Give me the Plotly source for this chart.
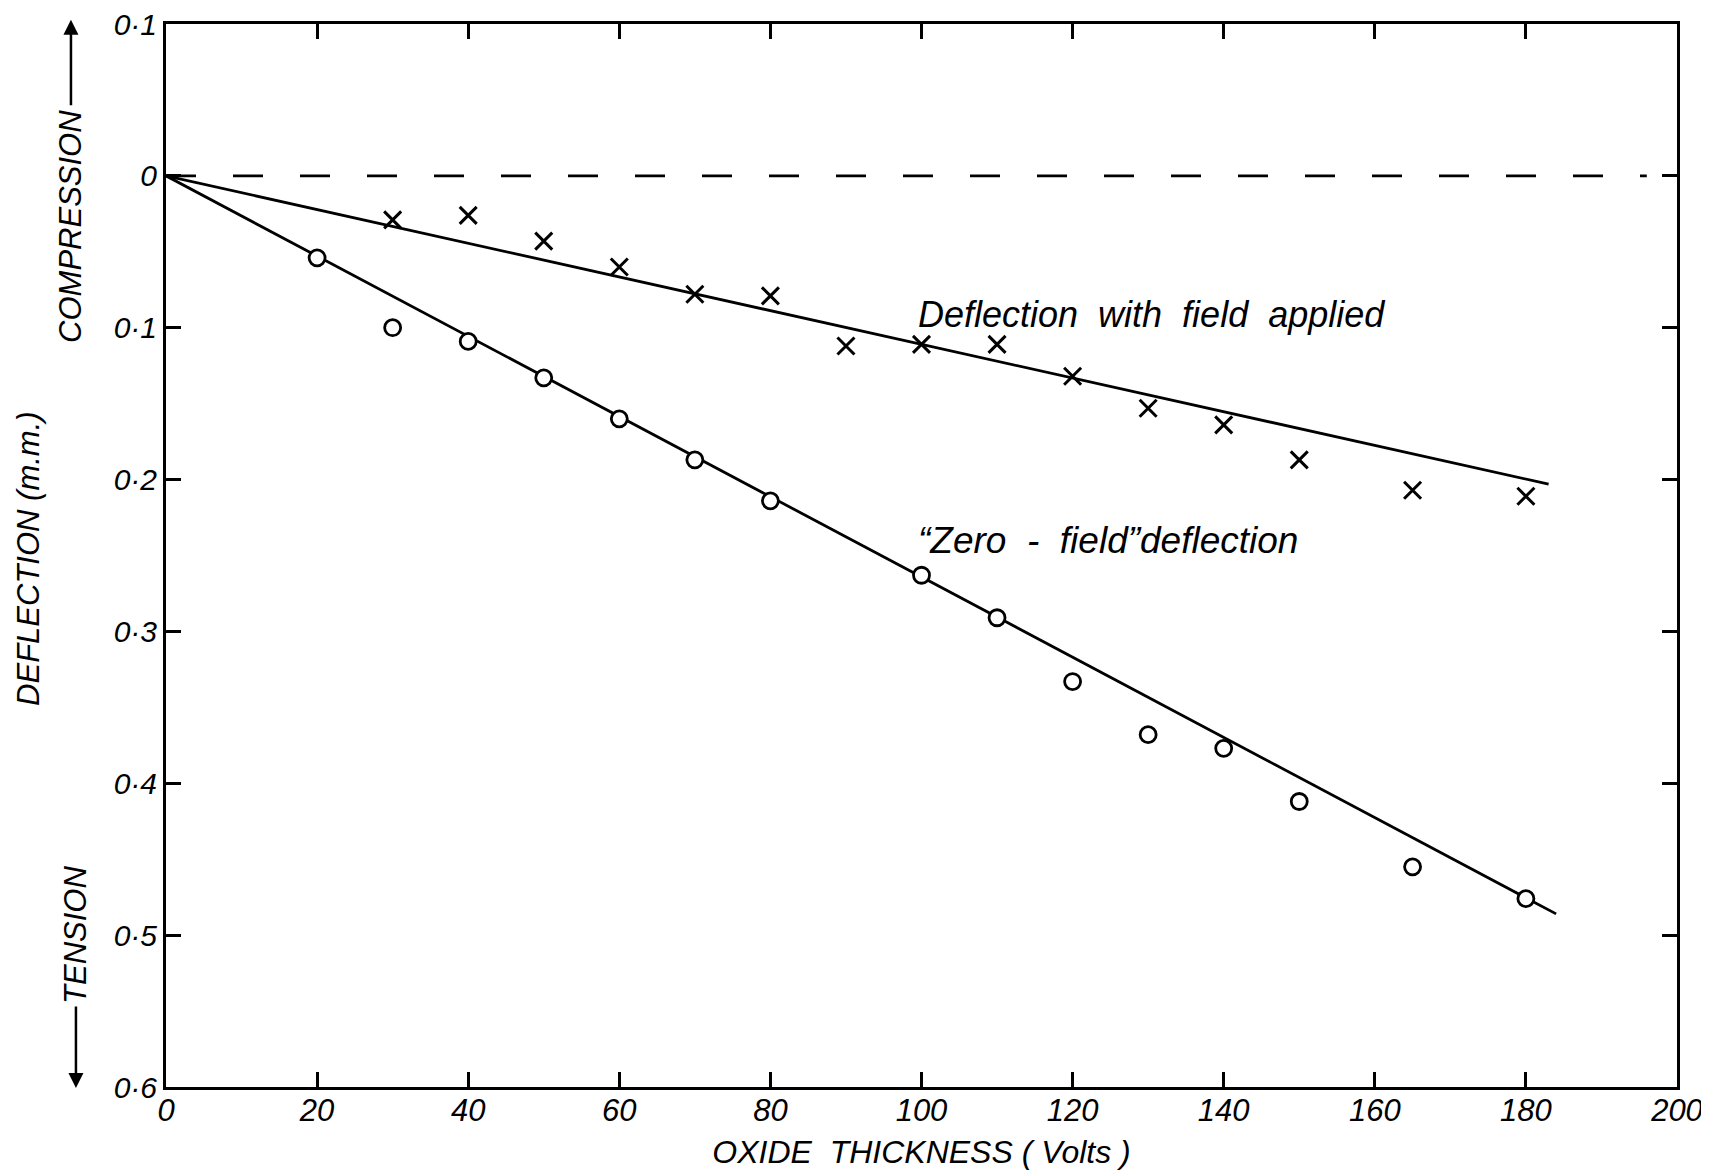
import plotly.graph_objects as go

# ---- data (deflection in mm; negative = tension, positive = compression) ----
field_x = [30, 40, 50, 60, 70, 80, 90, 100, 110, 120, 130, 140, 150, 165, 180]
field_defl = [0.029, 0.026, 0.043, 0.060, 0.078, 0.079, 0.112, 0.111, 0.111,
              0.132, 0.153, 0.164, 0.187, 0.207, 0.211]

zero_x = [20, 30, 40, 50, 60, 70, 80, 100, 110, 120, 130, 140, 150, 165, 180]
zero_defl = [0.054, 0.100, 0.109, 0.133, 0.160, 0.187, 0.214, 0.263, 0.291,
             0.333, 0.368, 0.377, 0.412, 0.455, 0.476]

# fitted lines (endpoints)
field_fit_x = [0, 183]
field_fit_defl = [0.0, 0.203]
zero_fit_x = [0, 184]
zero_fit_defl = [0.0, 0.486]

# zero reference (dashed)
ref_x = [0, 196]
ref_y = [0, 0]

x_ticks = [0, 20, 40, 60, 80, 100, 120, 140, 160, 180, 200]
y_tickvals = [0.1, 0.0, -0.1, -0.2, -0.3, -0.4, -0.5, -0.6]
y_ticktext = ["0·1", "0", "0·1", "0·2", "0·3", "0·4", "0·5", "0·6"]

FONT = "Liberation Sans"
fig = go.Figure()

fig.add_trace(go.Scatter(x=ref_x, y=ref_y, mode="lines",
                         line=dict(color="black", width=2.8, dash="30px,37px"),
                         showlegend=False, hoverinfo="skip"))
fig.add_trace(go.Scatter(x=field_fit_x, y=[-v for v in field_fit_defl], mode="lines",
                         line=dict(color="black", width=2.8), showlegend=False))
fig.add_trace(go.Scatter(x=zero_fit_x, y=[-v for v in zero_fit_defl], mode="lines",
                         line=dict(color="black", width=2.8), showlegend=False))
fig.add_trace(go.Scatter(x=field_x, y=[-v for v in field_defl], mode="markers",
                         marker=dict(symbol="x-thin", size=17, color="black",
                                     line=dict(color="black", width=3)),
                         name="Deflection with field applied", showlegend=False))
fig.add_trace(go.Scatter(x=zero_x, y=[-v for v in zero_defl], mode="markers",
                         marker=dict(symbol="circle", size=16, color="white",
                                     line=dict(color="black", width=2.8)),
                         name="Zero-field deflection", showlegend=False))

axis_common = dict(showgrid=False, zeroline=False, showline=True, linecolor="black",
                   linewidth=3, mirror="ticks", ticks="inside", ticklen=15,
                   tickwidth=3, tickcolor="black", ticklabeloverflow="allow",
                   automargin=False)

fig.update_xaxes(range=[0, 200], tickvals=x_ticks, ticklabelstandoff=-6,
                 tickfont=dict(family=FONT, size=31, color="black", style="italic"),
                 title=dict(text="OXIDE  THICKNESS ( Volts )", standoff=14,
                            font=dict(family=FONT, size=32, color="black", style="italic")),
                 **axis_common)
fig.update_yaxes(range=[-0.6, 0.1], tickvals=y_tickvals, ticktext=y_ticktext,
                 tickfont=dict(family=FONT, size=30, color="black", style="italic"),
                 **axis_common)

ann_font = dict(family=FONT, size=31, color="black", style="italic")
annotations = [
    dict(x=-0.0629, y=0.810, xref="paper", yref="paper", text="COMPRESSION",
         textangle=-90, showarrow=False, font=ann_font, xanchor="center", yanchor="middle"),
    dict(x=-0.0596, y=0.143, xref="paper", yref="paper", text="TENSION",
         textangle=-90, showarrow=False, font=ann_font, xanchor="center", yanchor="middle"),
    dict(x=-0.0907, y=0.4977, xref="paper", yref="paper", text="DEFLECTION (m.m.)",
         textangle=-90, showarrow=False, font=ann_font, xanchor="center", yanchor="middle"),
    dict(x=-0.0629, y=1.004, xref="paper", yref="paper", text="", showarrow=True,
         ax=0, ay=87, arrowhead=2, arrowsize=1.2, arrowwidth=2.5, arrowcolor="black"),
    dict(x=-0.0596, y=-0.001, xref="paper", yref="paper", text="", showarrow=True,
         ax=0, ay=-83, arrowhead=2, arrowsize=1.2, arrowwidth=2.5, arrowcolor="black"),
    dict(x=99.3, y=-0.091, xref="x", yref="y", xanchor="left", yanchor="middle",
         text="Deflection  with  field  applied", showarrow=False,
         font=dict(family=FONT, size=36, color="black", style="italic")),
    dict(x=99.3, y=-0.240, xref="x", yref="y", xanchor="left", yanchor="middle",
         text="“Zero  -  field”deflection", showarrow=False,
         font=dict(family=FONT, size=37, color="black", style="italic")),
]

fig.update_layout(width=1709, height=1174, autosize=False,
                  margin=dict(l=158, r=40, t=16, b=95, autoexpand=False),
                  plot_bgcolor="white", paper_bgcolor="white",
                  font=dict(family=FONT, color="black"),
                  annotations=annotations, showlegend=False)

fig.write_html("out.html")
